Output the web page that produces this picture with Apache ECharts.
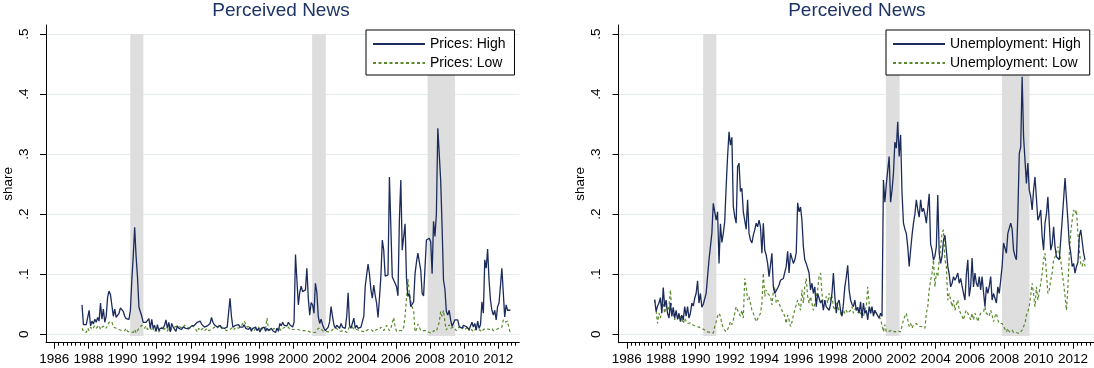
<!DOCTYPE html>
<html><head><meta charset="utf-8">
<script src="https://cdn.jsdelivr.net/npm/echarts@6/dist/echarts.min.js"></script>
<style>html,body{margin:0;padding:0;background:#fff}#c{width:1094px;height:368px}</style>
</head><body><div id="c"></div>
<script>
// monthly data, first value = Aug 1987, last = Sep 2012 (plotted at mid-month)
const startYear = 1987, startMonth = 8;

const pricesHigh = [
0.049,0.016,0.017,0.016,0.019,
0.040,0.014,0.022,0.017,0.025,0.020,0.028,0.022,0.052,0.025,0.042,0.020,
0.030,0.062,0.072,0.066,0.066,0.030,0.042,0.028,0.030,0.035,0.044,0.045,
0.038,0.030,0.026,0.025,0.025,0.040,0.090,0.130,0.178,0.130,0.095,0.045,
0.043,0.030,0.020,0.018,0.020,0.017,0.026,0.010,0.025,0.010,0.015,0.005,
0.016,0.006,0.010,0.012,0.010,0.015,0.024,0.010,0.020,0.004,0.018,0.012,
0.015,0.005,0.014,0.010,0.012,0.008,0.012,0.015,0.010,0.013,0.009,0.012,
0.014,0.016,0.015,0.018,0.020,0.017,0.022,0.017,0.018,0.012,0.015,0.014,
0.016,0.018,0.028,0.020,0.016,0.015,0.012,0.014,0.015,0.011,0.013,0.010,
0.008,0.012,0.009,0.060,0.030,0.012,0.010,0.015,0.012,0.016,0.012,0.015,
0.012,0.016,0.010,0.012,0.008,0.012,0.005,0.010,0.008,0.012,0.006,0.010,
0.004,0.010,0.008,0.012,0.005,0.010,0.006,0.004,0.010,0.006,0.008,0.003,
0.010,0.005,0.018,0.014,0.020,0.015,0.018,0.014,0.020,0.016,0.018,0.012,
0.020,0.133,0.090,0.049,0.070,0.080,0.071,0.068,0.074,0.110,0.060,0.032,
0.053,0.049,0.035,0.085,0.070,0.030,0.018,0.025,0.016,0.010,0.006,0.004,
0.012,0.021,0.046,0.030,0.016,0.010,0.015,0.012,0.010,0.018,0.012,0.015,
0.010,0.030,0.069,0.015,0.010,0.012,0.027,0.010,0.015,0.010,0.007,0.012,
0.021,0.030,0.080,0.099,0.117,0.100,0.074,0.060,0.082,0.065,0.052,0.028,
0.060,0.096,0.157,0.140,0.097,0.100,0.099,0.262,0.262,0.096,0.090,0.085,
0.079,0.064,0.190,0.257,0.140,0.138,0.184,0.093,0.063,0.068,0.046,0.050,
0.054,0.101,0.120,0.135,0.138,0.107,0.068,0.064,0.063,0.157,0.160,0.160,
0.154,0.101,0.188,0.163,0.200,0.343,0.300,0.257,0.180,0.090,0.075,0.038,
0.032,0.040,0.024,0.013,0.015,0.024,0.025,0.024,0.013,0.012,0.010,0.015,
0.012,0.013,0.015,0.008,0.010,0.020,0.012,0.018,0.007,0.022,0.010,0.016,
0.054,0.035,0.124,0.110,0.142,0.090,0.057,0.040,0.032,0.040,0.024,0.046,
0.052,0.080,0.110,0.110,0.029,0.049,0.040,0.042,0.040
];

const pricesLow = [
0.010,0.005,0.008,0.003,0.010,
0.006,0.012,0.008,0.010,0.014,0.010,0.012,0.015,0.008,0.012,0.010,0.014,
0.010,0.015,0.020,0.018,0.021,0.012,0.015,0.010,0.012,0.008,0.010,0.006,
0.008,0.006,0.010,0.005,0.008,0.004,0.006,0.003,0.008,0.002,0.005,0.010,
0.008,0.015,0.012,0.010,0.014,0.008,0.010,0.012,0.006,0.010,0.004,0.008,
0.010,0.004,0.008,0.012,0.006,0.010,0.008,0.005,0.012,0.004,0.010,0.008,
0.012,0.010,0.014,0.016,0.012,0.014,0.010,0.015,0.012,0.010,0.013,0.012,
0.015,0.014,0.012,0.008,0.004,0.010,0.006,0.008,0.010,0.006,0.008,0.010,
0.006,0.004,0.008,0.010,0.012,0.014,0.010,0.012,0.015,0.010,0.012,0.008,
0.010,0.006,0.004,0.008,0.010,0.012,0.008,0.012,0.015,0.010,0.012,0.014,
0.018,0.022,0.020,0.012,0.010,0.014,0.008,0.010,0.006,0.010,0.008,0.012,
0.010,0.006,0.012,0.010,0.010,0.027,0.008,0.010,0.006,0.008,0.010,0.006,
0.008,0.012,0.010,0.006,0.010,0.008,0.012,0.010,0.012,0.008,0.010,0.008,
0.009,0.008,0.007,0.008,0.007,0.006,0.007,0.006,0.005,0.006,0.005,0.004,
0.005,0.003,0.004,0.003,0.006,0.010,0.013,0.010,0.006,0.004,0.005,0.003,
0.004,0.006,0.005,0.008,0.010,0.012,0.010,0.006,0.004,0.005,0.003,0.006,
0.004,0.003,0.006,0.013,0.010,0.012,0.008,0.005,0.008,0.010,0.006,0.008,
0.005,0.006,0.004,0.006,0.008,0.010,0.008,0.006,0.004,0.006,0.008,0.010,
0.008,0.012,0.010,0.006,0.008,0.015,0.010,0.006,0.010,0.008,0.028,0.012,
0.005,0.004,0.006,0.008,0.006,0.012,0.030,0.060,0.092,0.070,0.055,0.045,
0.040,0.004,0.008,0.017,0.012,0.006,0.008,0.006,0.004,0.006,0.005,0.003,
0.004,0.002,0.006,0.004,0.005,0.006,0.020,0.038,0.030,0.040,0.020,0.007,
0.012,0.016,0.010,0.008,0.012,0.010,0.006,0.008,0.012,0.010,0.008,0.012,
0.008,0.010,0.012,0.006,0.010,0.008,0.004,0.006,0.010,0.012,0.008,0.006,
0.004,0.008,0.006,0.010,0.012,0.008,0.006,0.010,0.006,0.004,0.008,0.006,
0.010,0.008,0.012,0.024,0.020,0.018,0.022,0.010,0.002
];

const unempHigh = [
0.058,0.038,0.047,0.052,0.061,
0.035,0.078,0.046,0.057,0.035,0.027,0.052,0.030,0.045,0.027,0.040,0.025,
0.035,0.021,0.032,0.024,0.046,0.030,0.046,0.027,0.035,0.052,0.047,0.060,
0.068,0.089,0.052,0.068,0.045,0.050,0.052,0.068,0.096,0.124,0.146,0.168,
0.218,0.204,0.190,0.204,0.118,0.184,0.153,0.168,0.188,0.246,0.296,0.337,
0.315,0.328,0.213,0.196,0.185,0.279,0.285,0.238,0.243,0.204,0.204,0.175,
0.224,0.168,0.157,0.152,0.165,0.174,0.185,0.179,0.190,0.179,0.135,0.185,
0.140,0.132,0.118,0.096,0.096,0.135,0.079,0.068,0.065,0.077,0.082,0.090,
0.090,0.093,0.096,0.113,0.138,0.102,0.135,0.135,0.118,0.124,0.135,0.219,
0.204,0.212,0.190,0.146,0.124,0.118,0.118,0.102,0.074,0.085,0.068,0.079,
0.046,0.068,0.060,0.052,0.057,0.040,0.057,0.046,0.046,0.040,0.050,0.068,
0.102,0.063,0.035,0.052,0.057,0.040,0.030,0.050,0.079,0.095,0.115,0.074,
0.057,0.050,0.046,0.057,0.040,0.045,0.035,0.054,0.027,0.052,0.035,0.040,
0.024,0.046,0.035,0.046,0.030,0.040,0.035,0.038,0.027,0.035,0.030,0.257,
0.220,0.250,0.273,0.296,0.220,0.240,0.268,0.320,0.310,0.354,0.296,0.332,
0.235,0.185,0.175,0.168,0.146,0.113,0.140,0.165,0.185,0.200,0.224,0.207,
0.195,0.224,0.204,0.210,0.200,0.185,0.182,0.234,0.150,0.140,0.124,0.130,
0.146,0.232,0.135,0.118,0.130,0.157,0.165,0.140,0.113,0.100,0.079,0.085,
0.096,0.090,0.095,0.102,0.085,0.093,0.080,0.068,0.057,0.100,0.124,0.063,
0.080,0.127,0.079,0.102,0.085,0.079,0.096,0.074,0.096,0.070,0.046,0.079,
0.068,0.080,0.096,0.057,0.068,0.060,0.052,0.079,0.068,0.090,0.113,0.152,
0.152,0.135,0.168,0.168,0.185,0.175,0.140,0.130,0.124,0.200,0.301,0.312,
0.429,0.329,0.290,0.251,0.285,0.240,0.229,0.207,0.240,0.262,0.265,0.190,
0.196,0.207,0.163,0.140,0.185,0.200,0.229,0.232,0.140,0.150,0.179,0.146,
0.129,0.132,0.124,0.125,0.190,0.193,0.260,0.257,0.190,0.150,0.135,0.113,
0.118,0.102,0.113,0.120,0.163,0.174,0.174,0.135,0.124
];

const unempLow = [
0.057,0.040,0.018,0.035,0.027,
0.040,0.052,0.035,0.047,0.040,0.045,0.074,0.040,0.035,0.024,0.035,0.030,
0.024,0.030,0.025,0.018,0.027,0.022,0.018,0.021,0.019,0.016,0.015,0.013,
0.013,0.012,0.012,0.010,0.010,0.008,0.007,0.006,0.004,0.004,0.003,0.002,
0.002,0.013,0.021,0.030,0.035,0.030,0.018,0.010,0.007,0.004,0.008,0.013,
0.021,0.016,0.024,0.024,0.046,0.049,0.035,0.030,0.040,0.027,0.093,0.079,
0.057,0.063,0.052,0.040,0.035,0.032,0.021,0.021,0.030,0.035,0.052,0.102,
0.063,0.074,0.068,0.068,0.063,0.049,0.071,0.079,0.052,0.057,0.052,0.045,
0.040,0.035,0.030,0.018,0.032,0.024,0.013,0.020,0.032,0.032,0.049,0.057,
0.057,0.040,0.074,0.052,0.079,0.093,0.063,0.052,0.063,0.063,0.040,0.052,
0.052,0.074,0.096,0.102,0.068,0.046,0.052,0.063,0.052,0.068,0.057,0.063,
0.046,0.040,0.052,0.046,0.040,0.035,0.030,0.040,0.035,0.040,0.035,0.032,
0.040,0.046,0.035,0.040,0.046,0.035,0.040,0.035,0.035,0.030,0.040,0.046,
0.079,0.052,0.035,0.043,0.035,0.040,0.035,0.035,0.030,0.024,0.016,0.004,
0.016,0.004,0.007,0.005,0.004,0.007,0.004,0.004,0.006,0.006,0.003,0.004,
0.004,0.024,0.030,0.035,0.024,0.013,0.018,0.010,0.016,0.016,0.018,0.015,
0.013,0.016,0.013,0.016,0.010,0.035,0.046,0.074,0.090,0.102,0.124,0.079,
0.102,0.096,0.124,0.145,0.168,0.174,0.124,0.113,0.057,0.068,0.068,0.046,
0.057,0.040,0.049,0.057,0.040,0.035,0.030,0.024,0.035,0.040,0.035,0.035,
0.024,0.035,0.024,0.035,0.030,0.021,0.030,0.035,0.035,0.038,0.046,0.035,
0.035,0.030,0.040,0.032,0.021,0.030,0.035,0.024,0.018,0.021,0.018,0.013,
0.010,0.004,0.010,0.004,0.007,0.007,0.003,0.006,0.003,0.002,0.001,0.004,
0.007,0.013,0.018,0.032,0.038,0.046,0.046,0.085,0.068,0.046,0.079,0.057,
0.057,0.085,0.102,0.124,0.135,0.102,0.068,0.074,0.090,0.102,0.124,0.129,
0.135,0.146,0.135,0.124,0.102,0.085,0.063,0.040,0.079,0.135,0.170,0.190,
0.207,0.201,0.207,0.168,0.140,0.118,0.113,0.124,0.113
];

// NBER recessions (decimal years)
const recessions = [[1990.45, 1991.22], [2001.1, 2001.9], [2007.86, 2009.47]];
const yearLabels = [1986,1988,1990,1992,1994,1996,1998,2000,2002,2004,2006,2008,2010,2012];
const yTickValues = [0, 0.1, 0.2, 0.3, 0.4, 0.5];
const panelTitles = ['Perceived News', 'Perceived News'];
const legendNames = [['Prices: High', 'Prices: Low'], ['Unemployment: High', 'Unemployment: Low']];

// ---------- rendering ----------
const FONT = '"Liberation Sans", Arial, sans-serif';
const XMIN = 1985.517, XMAX = 2013.23, YMIN = -0.014, YMAX = 0.515;
const NAVY = '#1b2b5b', GREEN = '#5b8a2d';
const x0 = startYear + (startMonth - 0.5) / 12;
const toPairs = arr => arr.map((v, i) => [x0 + i / 12, v]);

const quarterTicks = [];
for (let q = 1986 * 4; q <= 2013 * 4; q++) quarterTicks.push(q / 4);

const grids = [
  { left: 42.7, top: 25, width: 476.6, height: 317.7 },
  { left: 618.5, top: 25, width: 476.6, height: 317.7 }
];

const xAxes = [], yAxes = [], series = [], legends = [], graphics = [];
const panelData = [[pricesHigh, pricesLow], [unempHigh, unempLow]];

grids.forEach((g, gi) => {
  xAxes.push({
    type: 'value', gridIndex: gi, min: XMIN, max: XMAX, position: 'bottom',
    axisLine: { show: true, onZero: false, lineStyle: { color: '#000', width: 1 } },
    axisTick: { show: true, customValues: yearLabels, length: 6, lineStyle: { color: '#000' } },
    axisLabel: { customValues: yearLabels, fontSize: 13.5, fontFamily: FONT, color: '#000', margin: 10, lineHeight: 14, formatter: v => String(Math.round(v)) },
    splitLine: { show: false }
  });
  xAxes.push({
    type: 'value', gridIndex: gi, min: XMIN, max: XMAX, position: 'bottom',
    axisLine: { show: false, onZero: false },
    axisTick: { show: true, customValues: quarterTicks, length: 3, lineStyle: { color: '#000' } },
    axisLabel: { show: false },
    splitLine: { show: false }
  });
  yAxes.push({
    type: 'value', gridIndex: gi, min: YMIN, max: YMAX,
    name: 'share', nameLocation: 'middle', nameGap: 31, nameRotate: 90,
    nameTextStyle: { fontSize: 13.5, fontFamily: FONT, color: '#000' },
    axisLine: { show: true, onZero: false, lineStyle: { color: '#000', width: 1 } },
    axisTick: { show: true, customValues: yTickValues, length: 6, lineStyle: { color: '#000' } },
    axisLabel: { customValues: yTickValues, rotate: 90, fontSize: 13.5, fontFamily: FONT, color: '#000', margin: 15,
      formatter: v => (Math.abs(v) < 1e-9 ? '0' : '.' + Math.round(v * 10)) },
    splitLine: { show: true, lineStyle: { color: '#e4eef0', width: 1 } }
  });

  // recession shading
  series.push({
    type: 'line', name: 'rec' + gi, xAxisIndex: gi * 2, yAxisIndex: gi, data: [], z: 1, silent: true,
    markArea: { silent: true, itemStyle: { color: '#dedede' },
      data: recessions.map(r => [{ xAxis: r[0], yAxis: -0.003 }, { xAxis: r[1], yAxis: 0.5 }]) }
  });
  const [hi, lo] = panelData[gi];
  const [nHi, nLo] = legendNames[gi];
  series.push({
    type: 'line', name: nHi, xAxisIndex: gi * 2, yAxisIndex: gi, data: toPairs(hi), z: 4,
    symbol: 'none', showSymbol: false, color: NAVY, lineStyle: { color: NAVY, width: 1.3 }
  });
  series.push({
    type: 'line', name: nLo, xAxisIndex: gi * 2, yAxisIndex: gi, data: toPairs(lo), z: 3,
    symbol: 'none', showSymbol: false, color: GREEN, lineStyle: { color: GREEN, width: 1.2, type: [3, 2.5] }
  });

  legends.push({
    data: [nHi, nLo], orient: 'vertical', left: gi === 0 ? 366 : 886, top: 30,
    itemWidth: 52, itemHeight: 14, itemGap: 5, padding: [7, 9, 5, 6],
    backgroundColor: '#fff', borderColor: '#000', borderWidth: 1, borderRadius: 0,
    itemStyle: { opacity: 0 },
    textStyle: { fontSize: 14, fontFamily: FONT, color: '#000', lineHeight: 14 },
    selectedMode: false, z: 10
  });

  graphics.push({
    type: 'text', x: g.left + g.width / 2, y: 11, z: 10,
    style: { text: panelTitles[gi], font: '19px ' + FONT, fill: '#1e3466',
      align: 'center', verticalAlign: 'middle', textAlign: 'center', textVerticalAlign: 'middle' }
  });
});

const chart = echarts.init(document.getElementById('c'), null, { renderer: 'canvas' });
chart.setOption({
  backgroundColor: '#fff',
  animation: false,
  grid: grids,
  xAxis: xAxes,
  yAxis: yAxes,
  legend: legends,
  series: series,
  graphic: graphics
});
</script></body></html>
